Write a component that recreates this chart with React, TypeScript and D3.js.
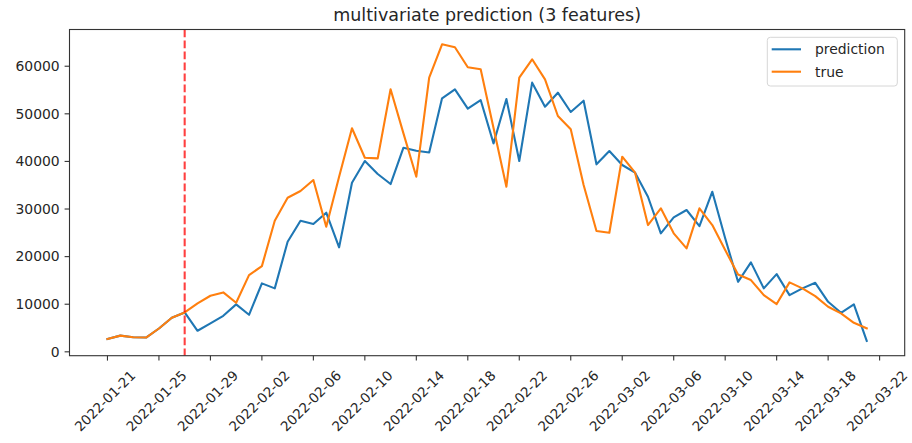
import React from "react";
import * as d3 from "d3";

const startDate = "2022-01-21";
const splitIndex = 6; // 2022-01-27

const trueValues = [
  2700, 3400, 3050, 3000, 4900, 7150, 8280, 10170, 11780, 12480,
  10300, 16120, 18010, 27540, 32370, 33780, 36090, 26280, 36790, 46960,
  40780, 40650, 55150, 45900, 36790, 57600, 64600, 63980, 59780, 59360,
  47020, 34690, 57600, 61460, 57250, 49540, 46750, 35040, 25370, 25020,
  40990, 37630, 26630, 30140, 24890, 21730, 30140, 26630, 21380, 16230,
  15070, 11920, 10030, 14590, 13330, 11710, 9460, 8070, 6100, 4920,
];

const predictionValues = [
  2700, 3400, 3050, 3000, 4900, 7150, 8280, 4420, 5960, 7570,
  9960, 7780, 14380, 13330, 23120, 27540, 26840, 29220, 21940, 35530,
  40090, 37350, 35250, 42880, 42250, 41870, 53260, 55150, 51080, 52900,
  43800, 53120, 40090, 56550, 51500, 54440, 50390, 52760, 39390, 42190,
  39250, 37630, 32580, 24890, 28250, 29790, 26420, 33630, 23840, 14710,
  18790, 13330, 16330, 11920, 13330, 14500, 10510, 8200, 9960, 2300,
];

const yTicks = [0, 10000, 20000, 30000, 40000, 50000, 60000];

const xTickLabels = [
  "2022-01-21", "2022-01-25", "2022-01-29", "2022-02-02", "2022-02-06",
  "2022-02-10", "2022-02-14", "2022-02-18", "2022-02-22", "2022-02-26",
  "2022-03-02", "2022-03-06", "2022-03-10", "2022-03-14", "2022-03-18",
  "2022-03-22",
];

const seriesNames = ["prediction", "true"];
const title = "multivariate prediction (3 features)";

const W = 912;
const H = 443;
const left = 69.5;
const right = 904.7;
const top = 29.5;
const bottom = 355.7;

const BLUE = "#1f77b4";
const ORANGE = "#ff7f0e";

const parse = d3.timeParse("%Y-%m-%d");

export default function App() {
  const start = parse(startDate) as Date;
  const dates = trueValues.map((_, i) => d3.timeDay.offset(start, i));
  const [d0, d1] = d3.extent(dates) as [Date, Date];
  const span = +d1 - +d0;
  const x = d3
    .scaleTime()
    .domain([new Date(+d0 - span * 0.05), new Date(+d1 + span * 0.05)])
    .range([left, right]);

  const all = trueValues.concat(predictionValues);
  const [ymin, ymax] = d3.extent(all) as [number, number];
  const ys = ymax - ymin;
  const y = d3
    .scaleLinear()
    .domain([ymin - ys * 0.05, ymax + ys * 0.05])
    .range([bottom, top]);

  const line = d3
    .line<number>()
    .x((_, i) => x(dates[i]))
    .y((v) => y(v));

  const fontFamily = "'DejaVu Sans', sans-serif";
  const textColor = "#262626";
  const splitX = x(dates[splitIndex]);

  return (
    <svg
      width={W}
      height={H}
      style={{ position: "absolute", left: 0, top: 0, background: "#fff" }}
      fontFamily={fontFamily}
    >
      <rect x={0} y={0} width={W} height={H} fill="#fff" />
      <text x={(left + right) / 2} y={21} textAnchor="middle" fontSize={17.5} fill={textColor}>
        {title}
      </text>

      <g clipPath="url(#clip)">
        <path d={line(predictionValues) || ""} fill="none" stroke={BLUE} strokeWidth={2.1} strokeLinejoin="round" strokeLinecap="square" />
        <path d={line(trueValues) || ""} fill="none" stroke={ORANGE} strokeWidth={2.1} strokeLinejoin="round" strokeLinecap="square" />
        <line x1={splitX} x2={splitX} y1={top} y2={bottom} stroke="red" strokeOpacity={0.75} strokeWidth={2.1} strokeDasharray="7.7,3.3" />
      </g>
      <defs>
        <clipPath id="clip">
          <rect x={left} y={top} width={right - left} height={bottom - top} />
        </clipPath>
      </defs>

      <rect x={left} y={top} width={right - left} height={bottom - top} fill="none" stroke="#333" strokeWidth={1.1} />

      {yTicks.map((t) => (
        <g key={t} transform={`translate(0,${y(t)})`}>
          <line x1={left - 4.9} x2={left} stroke="#333" strokeWidth={1.1} />
          <text x={left - 9.8} dy="0.35em" textAnchor="end" fontSize={13.9} fill={textColor}>
            {t}
          </text>
        </g>
      ))}

      {xTickLabels.map((lab) => {
        const tx = x(parse(lab) as Date);
        return (
          <g key={lab}>
            <line x1={tx} x2={tx} y1={bottom} y2={bottom + 4.9} stroke="#333" strokeWidth={1.1} />
            <text
              transform={`translate(${tx - 2.5},${401}) rotate(-45)`}
              textAnchor="middle"
              dy="0.35em"
              fontSize={13.6}
              fill={textColor}
            >
              {lab}
            </text>
          </g>
        );
      })}

      <g>
        <rect x={767.3} y={37.3} width={130} height={48.7} rx={3} fill="#fff" fillOpacity={0.8} stroke="#d6d6d6" strokeWidth={1} />
        {seriesNames.map((n, i) => (
          <g key={n} transform={`translate(0,${49.3 + i * 22.4})`}>
            <line x1={771.7} x2={801} stroke={i === 0 ? BLUE : ORANGE} strokeWidth={2.1} />
            <text x={815} dy="0.35em" fontSize={13.9} fill={textColor}>
              {n}
            </text>
          </g>
        ))}
      </g>
    </svg>
  );
}
